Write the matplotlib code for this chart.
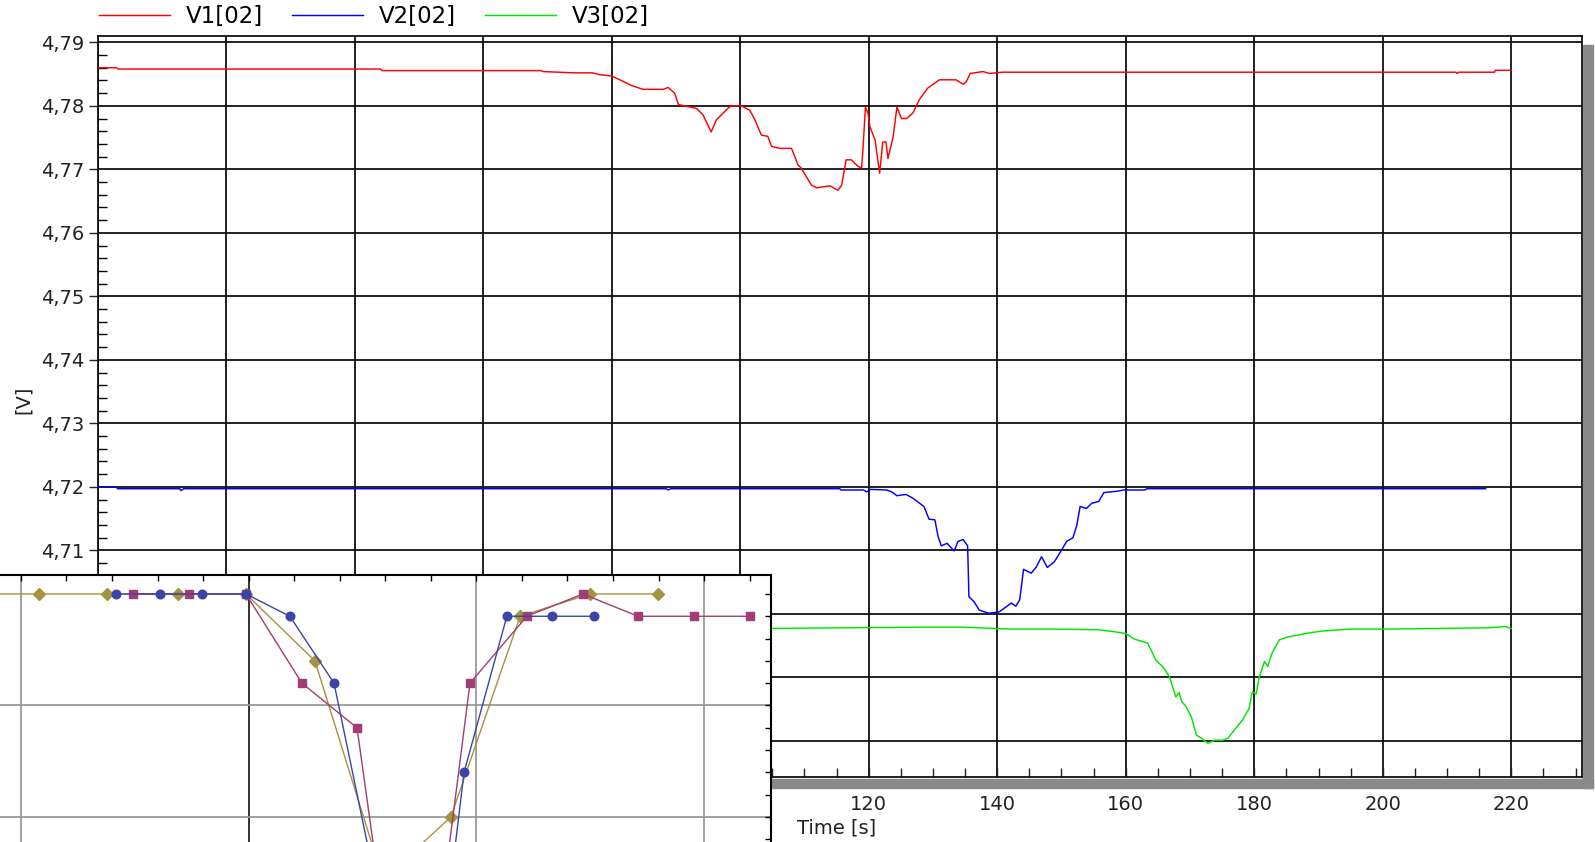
import numpy as np
import matplotlib
matplotlib.use("Agg")
import matplotlib.pyplot as plt
from matplotlib.ticker import MultipleLocator, FuncFormatter
from matplotlib.patches import Rectangle

plt.rcParams['font.family'] = ['DejaVu Sans']

# ---- main chart data (time [s], voltage [V]) ----
v1_pts = [(0, 4.7860), (3, 4.7860), (3.2, 4.7858), (44, 4.7858), (44.3, 4.78555),
          (69, 4.78555), (69.3, 4.7854), (74, 4.7852), (77, 4.7852), (78.2, 4.7849),
          (80, 4.7847), (81.3, 4.7841), (83.1, 4.7832), (84.9, 4.7826), (88, 4.7826),
          (88.8, 4.7829), (89.8, 4.7820), (90.4, 4.7802), (93.2, 4.7796), (94.2, 4.7786),
          (95.5, 4.7759), (96.3, 4.7778), (98.1, 4.7796), (98.6, 4.7800), (100.2, 4.7800),
          (101.5, 4.7793), (102.3, 4.7778), (103.3, 4.7754), (104.3, 4.7752), (104.9, 4.7736),
          (106.2, 4.7733), (108, 4.7733), (109, 4.7707), (109.5, 4.7702), (111.1, 4.7675),
          (111.9, 4.7671), (114, 4.7674), (115.2, 4.7667), (115.8, 4.7675), (116.5, 4.7715),
          (117.3, 4.7715), (118.3, 4.7705), (118.9, 4.7702), (119.1, 4.7730), (119.5, 4.7798),
          (119.9, 4.7788), (120.2, 4.7767), (121, 4.7746), (121.7, 4.7694), (122.2, 4.7743),
          (122.7, 4.7743), (123, 4.7717), (123.8, 4.7751), (124.4, 4.7798), (125.1, 4.7780),
          (125.9, 4.7780), (126.9, 4.7789), (127.9, 4.7810), (129.2, 4.7828), (131, 4.7841),
          (133.6, 4.7841), (134.7, 4.7834), (135.2, 4.7838), (135.8, 4.7851), (137.8, 4.7854),
          (138.8, 4.7851), (140.8, 4.7853), (211.4, 4.7853), (211.6, 4.7851), (211.8, 4.7853),
          (217.4, 4.7853), (217.5, 4.7856), (220, 4.7856)]

v2_pts = [(0, 4.7200), (3, 4.7200), (3.1, 4.7197), (12.8, 4.7197), (13, 4.7194),
          (13.4, 4.7197), (88.5, 4.7197), (88.8, 4.7195), (89.2, 4.7197), (115.5, 4.7197),
          (115.7, 4.7195), (119.2, 4.7195), (119.7, 4.7192), (120.3, 4.7196), (122.8, 4.7195),
          (123.6, 4.7192), (124.4, 4.7186), (125.8, 4.7188), (126.9, 4.7182), (128.6, 4.7169),
          (129.4, 4.7149), (130.3, 4.7148), (130.8, 4.7122), (131.3, 4.7107), (132.2, 4.7111),
          (133.3, 4.7099), (133.9, 4.7114), (134.7, 4.7117), (135.4, 4.7107), (135.6, 4.7027),
          (136.4, 4.7019), (137.2, 4.7006), (138.6, 4.7001), (140.3, 4.7003), (141.4, 4.7011),
          (142.2, 4.7017), (142.9, 4.7012), (143.5, 4.7022), (144.1, 4.7070), (145.3, 4.7064),
          (146.1, 4.7074), (146.9, 4.7090), (147.8, 4.7073), (148.9, 4.7082), (150, 4.7100),
          (150.8, 4.7114), (151.8, 4.7120), (152.4, 4.7140), (152.9, 4.7169), (153.9, 4.7166),
          (154.7, 4.7174), (155.8, 4.7177), (156.6, 4.7191), (158.6, 4.7193), (159.7, 4.7195),
          (163, 4.7195), (163.3, 4.7197), (216, 4.7197)]

v3_pts = [(0, 4.6977), (104.9, 4.6977), (128.7, 4.6979), (134.5, 4.6979), (141.9, 4.6976),
          (148.4, 4.6976), (155.6, 4.6975), (158.1, 4.6972), (160, 4.6969), (161.4, 4.6960),
          (163.4, 4.6954), (164.7, 4.6927), (165.8, 4.6916), (166.8, 4.6901), (167.8, 4.6869),
          (168.3, 4.6876), (168.7, 4.6862), (169.4, 4.6854), (170.2, 4.6838), (171, 4.6809),
          (171.8, 4.6804), (172.8, 4.6796), (173.8, 4.6801), (175.1, 4.6801), (175.9, 4.6804),
          (176.9, 4.6817), (178.2, 4.6833), (179.2, 4.6851), (179.7, 4.6877), (180.3, 4.6874),
          (180.8, 4.6901), (181.6, 4.6925), (182.1, 4.6917), (182.8, 4.6939), (183.9, 4.6959),
          (185, 4.6963), (188.6, 4.6970), (190.7, 4.6973), (194.9, 4.6976), (201.6, 4.6976),
          (216.5, 4.6978), (219, 4.6980), (220, 4.6977)]

series_names = ["V1[02]", "V2[02]", "V3[02]"]
series_colors = ["#ff0000", "#0000ff", "#00e600"]

# ---- inset chart data (zoomed detail, arbitrary units) ----
blue_x = [4.17, 6.10, 7.95, 9.88, 11.81, 13.75, 15.68, 17.57, 19.46, 21.34, 23.32, 25.16]
blue_y = [0, 0, 0, 0, -1, -4, -13.5, -24, -8, -1, -1, -1]
mag_x = [4.92, 7.38, 9.88, 12.34, 14.76, 17.22, 19.72, 22.22, 24.68, 27.10, 29.56, 32.02]
mag_y = [0, 0, 0, -4, -6, -24, -4, -1, 0, -1, -1, -1]
oli_x = [-2.20, 0.79, 3.78, 6.90, 9.88, 12.91, 15.90, 18.88, 21.92, 24.99, 27.98]
oli_y = [0, 0, 0, 0, 0, -3, -12.8, -10, -1, 0, 0]

W, H = 1595, 842
fig = plt.figure(figsize=(W / 100, H / 100), dpi=100)
fig.patch.set_facecolor("white")

# drop shadow of the main plot frame
shade = "#8a8a8a"
fig.add_artist(Rectangle((1583 / W, 1 - 788 / H), 10 / W, (788 - 45) / H,
                         transform=fig.transFigure, color=shade, zorder=0))
fig.add_artist(Rectangle((106 / W, 1 - 788 / H), (1593 - 106) / W, 9 / H,
                         transform=fig.transFigure, color=shade, zorder=0))

ax = fig.add_axes([97.5 / W, 1 - 777 / H, (1582 - 97.5) / W, (777 - 36) / H])
ax.set_facecolor("white")
lines = []
for pts, name, col in zip([v1_pts, v2_pts, v3_pts], series_names, series_colors):
    t, v = zip(*pts)
    ln, = ax.plot(t, v, color=col, lw=1.05, label=name, zorder=3)
    lines.append(ln)

ax.set_xlim(0, 231)
ax.set_ylim(4.6743, 4.791)
ax.xaxis.set_major_locator(MultipleLocator(20))
ax.xaxis.set_minor_locator(MultipleLocator(5))
ax.set_xticks(np.arange(0, 221, 20))
ax.yaxis.set_major_locator(MultipleLocator(0.01))
ax.yaxis.set_minor_locator(MultipleLocator(0.002))
ax.yaxis.set_major_formatter(FuncFormatter(lambda v, p: f"{v:.2f}".replace(".", ",")))
ax.grid(True, which="major", color="#111111", lw=1.3)
ax.tick_params(axis="x", which="both", direction="in", length=6.5, width=1.0,
               labelsize=14, pad=13, colors="#222222")
ax.tick_params(axis="y", which="major", direction="out", length=6.5, width=1.0,
               labelsize=14, pad=3, colors="#222222")
ax.tick_params(axis="y", which="minor", direction="in", length=6.5, width=1.0)
for s in ax.spines.values():
    s.set_linewidth(1.3)
    s.set_color("#111111")

fig.text(23 / W, 1 - 400 / H, "[V]", rotation=90, ha="center", va="center",
         fontsize=14, color="#222222")
fig.text(797 / W, 1 - 828 / H, "Time [s]", ha="left", va="center",
         fontsize=14, color="#222222")

fig.legend(handles=lines, loc="center left", bbox_to_anchor=(99 / W, 1 - 17 / H),
           ncol=3, frameon=False, fontsize=16.5, handlelength=3.1,
           handletextpad=0.7, columnspacing=1.25, borderpad=0, borderaxespad=0)

# ---- inset (pasted zoomed view) ----
axi = fig.add_axes([0, 0, 771 / W, (842 - 575) / H])
axi.set_facecolor("white")
axi.set_zorder(5)
oli, blu, mag = "#a39440", "#3c44a8", "#a23c72"
axi.plot(oli_x, oli_y, color=oli, lw=1.0, marker="D", ms=6.5, zorder=3)
axi.plot(mag_x, mag_y, color=mag, lw=1.0, marker="s", ms=5.8, zorder=4)
axi.plot(blue_x, blue_y, color=blu, lw=1.0, marker="o", ms=6.2, zorder=5)
axi.set_xlim(-0.92, 32.94)
axi.set_ylim(-11.12, 0.85)
for gx in [0, 20, 30]:
    axi.axvline(gx, color="#9a9a9a", lw=1.3, zorder=1)
axi.axvline(10, color="#222222", lw=1.3, zorder=1)
for gy in [-5, -10]:
    axi.axhline(gy, color="#9a9a9a", lw=1.3, zorder=1)
axi.xaxis.set_ticks_position("top")
axi.yaxis.set_ticks_position("right")
axi.set_xticks(np.arange(0, 33, 2))
axi.set_yticks(np.arange(-11, 1, 1))
axi.tick_params(axis="both", direction="in", length=4.5, width=1.0,
                labeltop=False, labelright=False, labelbottom=False, labelleft=False)
axi.spines["left"].set_visible(False)
axi.spines["bottom"].set_visible(False)
axi.spines["top"].set_linewidth(1.5)
axi.spines["right"].set_linewidth(1.5)

fig.savefig("out.png", dpi=100, facecolor="white")
